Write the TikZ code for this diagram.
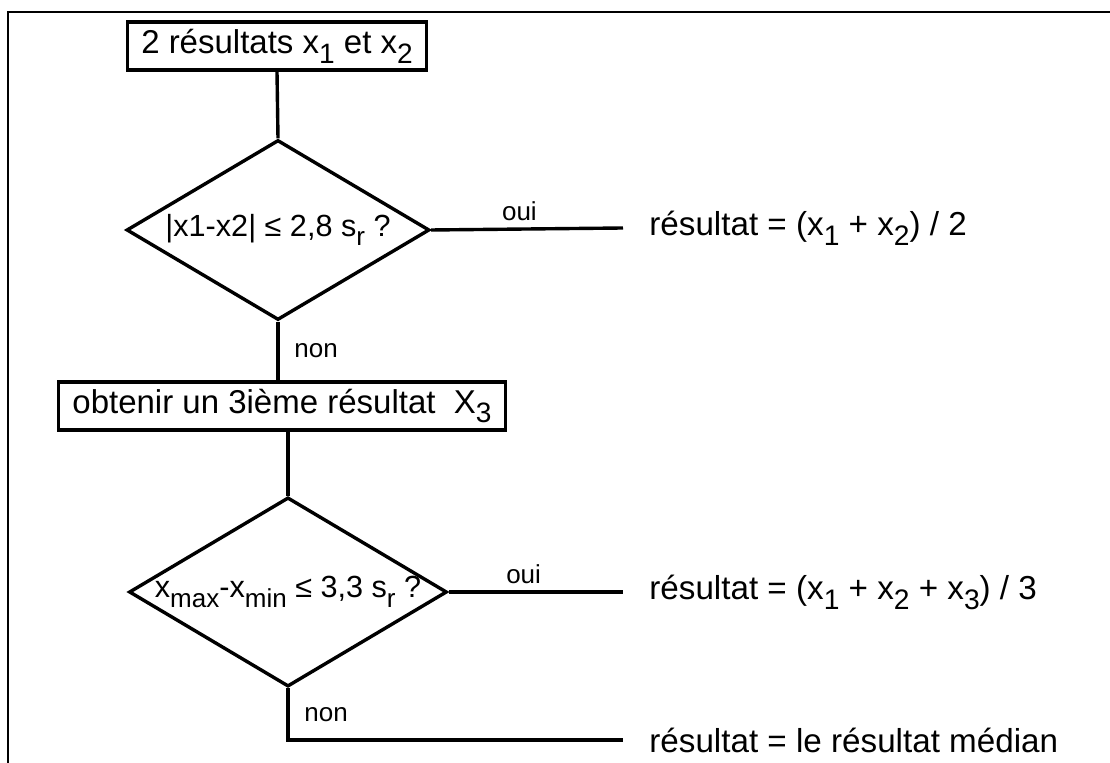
\documentclass[tikz,border=0pt]{standalone}
\usepackage{fontspec}
\setmainfont{Liberation Sans}
\usetikzlibrary{shapes.geometric}
\newcommand{\idx}[1]{\raisebox{-.3em}{\scalebox{.85}{#1}}}

\begin{document}
\begin{tikzpicture}[
    x=0.5pt, y=-0.5pt,
    box/.style={draw=black, line width=1.7pt, inner xsep=7pt,
      minimum height=24pt, font=\fontsize{16.5}{19}\selectfont},
    test/.style={draw=black, diamond, line width=1.7pt, inner sep=0pt,
      aspect=1.68, minimum width=151.5pt, minimum height=90pt,
      font=\fontsize{15.3}{18}\selectfont},
    result/.style={anchor=west, inner xsep=13pt,
      font=\fontsize{16.6}{19}\selectfont},
    answer/.style={font=\fontsize{13}{15}\selectfont},
    link/.style={draw=black, line width=1.7pt},
  ]
    \useasboundingbox (0,0) rectangle (1110,763);
    \draw[line width=1.1pt] (8,763) -- (8,12) -- (1110,12);

    \node[box] (start) at (277,46) {2 résultats x\idx{1} et x\idx{2}};
    \node[test] (dia1) at (278,230) {|x1-x2| ≤ 2,8 s\idx{r} ?};
    \node[result] (res1) at (623,228) {résultat = (x\idx{1} + x\idx{2}) / 2};
    \draw[link] (start.south) -- (dia1.north);
    \draw[link] (dia1.east) -- node[answer, above, pos=.46] {oui} (res1.west);

    \node[box] (third) at (282,406) {obtenir un 3ième résultat\ \ X\idx{3}};
    \draw[link] (dia1.south) -- node[answer, right=4pt] {non}
      (dia1.south |- third.north);

    \node[test] (dia2) at (288,592) {x\idx{max}-x\idx{min} ≤ 3,3 s\idx{r} ?};
    \node[result] (res2) at (623,592)
      {résultat = (x\idx{1} + x\idx{2} + x\idx{3}) / 3};
    \node[result] (res3) at (623,740) {résultat = le résultat médian};
    \draw[link] (dia2.north |- third.south) -- (dia2.north);
    \draw[link] (dia2.east) -- node[answer, above, pos=.43] {oui} (res2.west);
    \draw[link] (dia2.south) -- node[answer, right=4pt] {non}
      (dia2.south |- res3.west) -- (res3.west);
  \end{tikzpicture}
\end{document}
